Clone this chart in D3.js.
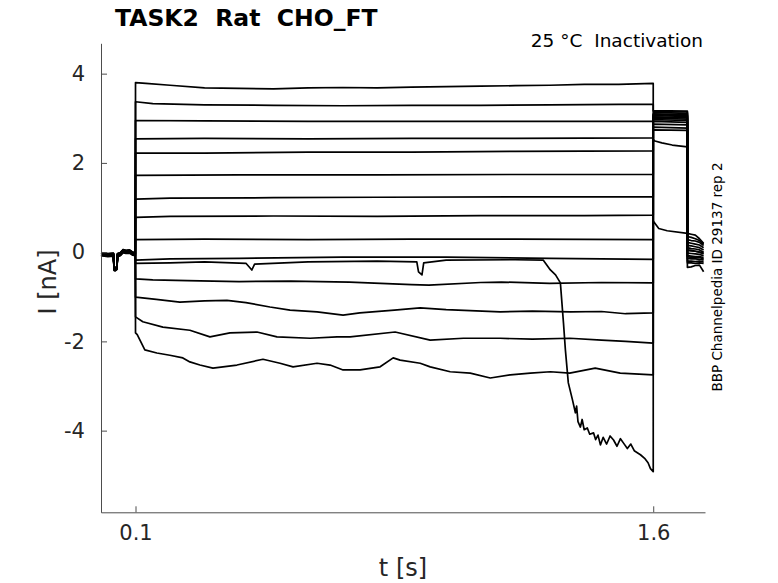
<!DOCTYPE html>
<html>
<head>
<meta charset="utf-8">
<script src="https://cdn.jsdelivr.net/npm/d3@7"></script>
<style>
  body { margin: 0; background: #fff; }
  text { font-family: "DejaVu Sans", sans-serif; white-space: pre; }
</style>
</head>
<body>
<script>
// holding segment before the prepulse (shared by every sweep)
const holdT = [0, 0.02, 0.036, 0.038, 0.041, 0.046, 0.048, 0.056, 0.064, 0.072, 0.083, 0.092, 0.0995];
const holdI = [-0.03, -0.05, -0.04, -0.36, -0.37, -0.34, -0.05, -0.03, 0.04, 0.02, 0.03, -0.02, -0.03];
const holdOffset = [0, -0.02, 0.01, -0.04, 0.0, -0.03, 0.02, -0.05, -0.01, 0.01, -0.04, -0.02, 0.0, -0.03, 0.01];

// prepulse 0.1 - 1.6 s, [t, I] knots per sweep
const prepulseKnots = [
  [[0.1,3.80],[0.13,3.78],[0.2,3.74],[0.3,3.68],[0.4,3.67],[0.5,3.66],[0.6,3.68],[0.7,3.69],[0.8,3.68],[0.9,3.70],[1.0,3.71],[1.1,3.72],[1.2,3.73],[1.3,3.74],[1.4,3.76],[1.5,3.76],[1.6,3.78]],
  [[0.1,3.37],[0.15,3.33],[0.3,3.30],[0.5,3.29],[0.7,3.28],[0.9,3.29],[1.1,3.29],[1.3,3.30],[1.5,3.31],[1.6,3.31]],
  [[0.1,2.95],[0.3,2.94],[0.6,2.93],[0.9,2.93],[1.2,2.93],[1.6,2.93]],
  [[0.1,2.54],[0.3,2.55],[0.6,2.54],[0.9,2.55],[1.2,2.55],[1.6,2.56]],
  [[0.1,2.22],[0.3,2.22],[0.6,2.24],[0.9,2.24],[1.2,2.26],[1.6,2.27]],
  [[0.1,1.72],[0.4,1.73],[0.8,1.73],[1.2,1.74],[1.6,1.74]],
  [[0.1,1.19],[0.2,1.21],[0.5,1.22],[0.8,1.23],[1.2,1.24],[1.6,1.24]],
  [[0.1,0.78],[0.2,0.80],[0.5,0.81],[0.8,0.80],[1.1,0.82],[1.4,0.82],[1.6,0.83]],
  [[0.1,0.28],[0.3,0.29],[0.6,0.28],[0.9,0.29],[1.2,0.29],[1.6,0.28]],
  [[0.1,-0.18],[0.2,-0.15],[0.4,-0.14],[0.7,-0.11],[1.0,-0.11],[1.3,-0.14],[1.6,-0.16]],
  [[0.1,-0.25],[0.2,-0.24],[0.3,-0.22],[0.42,-0.25],[0.437,-0.40],[0.445,-0.27],[0.6,-0.22],[0.8,-0.2],[0.915,-0.22],[0.92,-0.44],[0.93,-0.51],[0.935,-0.24],[1.0,-0.18],[1.2,-0.17],[1.2816,-0.18],[1.302,-0.40],[1.317,-0.51],[1.331,-0.69],[1.34,-1.59],[1.3455,-2.19],[1.354,-2.93],[1.366,-3.31],[1.3745,-3.60],[1.378,-3.45],[1.382,-3.80],[1.389,-3.92],[1.394,-3.75],[1.40,-3.98],[1.409,-3.94],[1.416,-4.08],[1.427,-4.05],[1.433,-4.2],[1.44,-4.1],[1.447,-4.32],[1.455,-4.15],[1.465,-4.3],[1.475,-4.12],[1.485,-4.21],[1.495,-4.35],[1.505,-4.18],[1.514,-4.28],[1.525,-4.40],[1.535,-4.30],[1.545,-4.45],[1.555,-4.50],[1.563,-4.54],[1.575,-4.62],[1.585,-4.72],[1.592,-4.85],[1.6,-4.92]],
  [[0.1,-0.60],[0.15,-0.62],[0.25,-0.64],[0.4,-0.66],[0.55,-0.65],[0.72,-0.67],[0.9,-0.73],[0.95,-0.74],[1.1,-0.68],[1.16,-0.67],[1.3,-0.70],[1.45,-0.68],[1.6,-0.69]],
  [[0.1,-1.01],[0.16,-1.06],[0.2285,-1.12],[0.3,-1.09],[0.3649,-1.08],[0.42,-1.13],[0.4896,-1.23],[0.5477,-1.30],[0.626,-1.34],[0.7014,-1.41],[0.75,-1.36],[0.85,-1.30],[0.9248,-1.25],[1.0,-1.29],[1.1569,-1.34],[1.25,-1.32],[1.36,-1.34],[1.45,-1.33],[1.52,-1.38],[1.6,-1.36]],
  [[0.1,-1.45],[0.1212,-1.56],[0.1792,-1.68],[0.2575,-1.75],[0.3156,-1.90],[0.3736,-1.81],[0.4519,-1.79],[0.5099,-1.90],[0.6057,-1.93],[0.684,-1.90],[0.7217,-1.90],[0.8522,-1.79],[0.9538,-1.97],[1.05,-1.93],[1.1569,-1.93],[1.25,-1.95],[1.358,-1.93],[1.45,-1.97],[1.52,-2.0],[1.6,-2.04]],
  [[0.1,-1.81],[0.105,-1.85],[0.127,-2.19],[0.1618,-2.26],[0.1995,-2.31],[0.2372,-2.37],[0.2575,-2.46],[0.2866,-2.53],[0.3242,-2.60],[0.3533,-2.57],[0.3939,-2.53],[0.4693,-2.40],[0.5186,-2.49],[0.5564,-2.57],[0.626,-2.49],[0.6637,-2.53],[0.7014,-2.64],[0.7507,-2.64],[0.8087,-2.57],[0.8465,-2.37],[0.8667,-2.42],[0.9248,-2.49],[0.9538,-2.57],[1.0118,-2.68],[1.0698,-2.71],[1.1279,-2.82],[1.1859,-2.75],[1.2439,-2.71],[1.302,-2.68],[1.358,-2.71],[1.4319,-2.60],[1.5044,-2.71],[1.6,-2.75]]
];

// test pulse 1.6 - 1.7 s
const testKnots = [
  [[1.6,3.17],[1.699,3.16]],
  [[1.6,3.15],[1.699,3.14]],
  [[1.6,3.13],[1.699,3.11]],
  [[1.6,3.10],[1.699,3.08]],
  [[1.6,3.08],[1.699,3.06]],
  [[1.6,3.06],[1.699,3.04]],
  [[1.6,3.03],[1.699,3.01]],
  [[1.6,3.00],[1.699,2.98]],
  [[1.6,2.97],[1.699,2.95]],
  [[1.6,2.93],[1.699,2.91]],
  [[1.6,0.70],[1.6016,0.68],[1.616,0.53],[1.6404,0.48],[1.699,0.42]],
  [[1.6,2.87],[1.699,2.85]],
  [[1.6,2.80],[1.699,2.78]],
  [[1.6,2.52],[1.605,2.49],[1.625,2.45],[1.655,2.40],[1.699,2.36]],
  [[1.6,2.74],[1.699,2.73]]
];

// after the test pulse
const postT = [1.699, 1.71, 1.722, 1.734, 1.746];
const postI = [
  [0.42, 0.40, 0.38, 0.30, 0.20],
  [0.35, 0.33, 0.30, 0.26, 0.18],
  [0.28, 0.26, 0.25, 0.22, 0.15],
  [0.22, 0.20, 0.18, 0.16, 0.10],
  [0.15, 0.14, 0.12, 0.10, 0.05],
  [0.10, 0.08, 0.07, 0.05, 0.0],
  [0.04, 0.03, 0.02, 0.0, -0.04],
  [-0.02, -0.03, -0.04, -0.05, -0.08],
  [-0.08, -0.09, -0.10, -0.10, -0.12],
  [-0.14, -0.15, -0.15, -0.16, -0.18],
  [-0.34, -0.33, -0.30, -0.29, -0.44],
  [-0.20, -0.20, -0.21, -0.20, -0.22],
  [-0.24, -0.24, -0.25, -0.24, -0.25],
  [0.05, 0.04, 0.02, 0.0, -0.02],
  [-0.10, -0.12, -0.13, -0.12, -0.15]
];

const xTicks = [0.1, 1.6];
const yTicks = [-4, -2, 0, 2, 4];
const xDomain = [0, 1.75];
const yDomain = [-5.83, 4.68];

const width = 778;
const height = 583;
const plotLeft = 101, plotRight = 705, plotTop = 43.3, plotBottom = 512.3;

const svg = d3.select("body").append("svg")
  .attr("width", width)
  .attr("height", height);

const x = d3.scaleLinear().domain(xDomain).range([plotLeft, plotRight]);
const y = d3.scaleLinear().domain(yDomain).range([plotBottom, plotTop]);

const sweeps = prepulseKnots.map((pre, i) => {
  const hold = holdT.map((t, j) => [t, holdI[j] + holdOffset[i]]);
  const post = postT.map((t, j) => [t, postI[i][j]]);
  return hold.concat(pre, testKnots[i], post);
});

const line = d3.line().x(d => x(d[0])).y(d => y(d[1]));

svg.append("g")
  .selectAll("path")
  .data(sweeps)
  .join("path")
  .attr("d", line)
  .attr("fill", "none")
  .attr("stroke", "#000")
  .attr("stroke-width", 1.7)
  .attr("stroke-linejoin", "round");

const axisColor = "#4d4d4d";

const gx = svg.append("g")
  .attr("transform", `translate(0,${plotBottom})`)
  .call(d3.axisBottom(x).tickValues(xTicks).tickFormat(d3.format(".1f"))
    .tickSizeInner(-6).tickSizeOuter(0).tickPadding(13));

const gy = svg.append("g")
  .attr("transform", `translate(${plotLeft},0)`)
  .call(d3.axisLeft(y).tickValues(yTicks).tickFormat(d3.format("d"))
    .tickSizeInner(-6).tickSizeOuter(0).tickPadding(16));

[gx, gy].forEach(g => {
  g.select(".domain").attr("stroke", axisColor);
  g.selectAll(".tick line").attr("stroke", axisColor);
  g.selectAll(".tick text")
    .attr("fill", "#262626")
    .style("font-size", "21px")
    .style("font-family", "'DejaVu Sans', sans-serif");
});
gy.selectAll(".tick text").text(d => d < 0 ? "-" + Math.abs(d) : d);

svg.append("text")
  .attr("x", 115).attr("y", 26)
  .attr("font-weight", "bold")
  .style("font-size", "23.5px")
  .attr("fill", "#000")
  .text("TASK2  Rat  CHO_FT");

svg.append("text")
  .attr("x", 703).attr("y", 47)
  .attr("text-anchor", "end")
  .style("font-size", "18.5px")
  .attr("fill", "#000")
  .text("25 °C  Inactivation");

svg.append("text")
  .attr("x", 403).attr("y", 576)
  .attr("text-anchor", "middle")
  .style("font-size", "24px")
  .attr("fill", "#262626")
  .text("t [s]");

svg.append("text")
  .attr("transform", "translate(56,282) rotate(-90)")
  .attr("text-anchor", "middle")
  .style("font-size", "24px")
  .attr("fill", "#262626")
  .text("I [nA]");

svg.append("text")
  .attr("transform", "translate(722,277) rotate(-90)")
  .attr("text-anchor", "middle")
  .style("font-size", "13.5px")
  .attr("fill", "#000")
  .text("BBP Channelpedia ID 29137 rep 2");
</script>
</body>
</html>
